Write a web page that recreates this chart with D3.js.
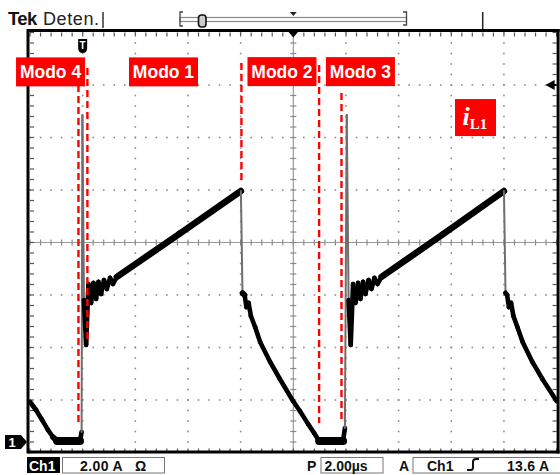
<!DOCTYPE html>
<html>
<head>
<meta charset="utf-8">
<script src="https://cdn.jsdelivr.net/npm/d3@7/dist/d3.min.js"></script>
<style>
  html, body { margin: 0; padding: 0; background: #fff; }
  svg { display: block; }
</style>
</head>
<body>
<script>
// Inductor current i_L1 captured on channel 1 (time in µs, current in A)
const timeUs = [
  0.00, 0.23, 0.46, 0.68, 0.87, 1.03, 1.90, 1.96, 1.99, 2.05, 2.13, 2.22, 2.32, 2.41,
  2.51, 2.60, 2.70, 2.81, 2.92, 3.04, 3.15, 3.30, 5.66, 8.01, 8.07, 8.15, 8.22, 8.30,
  8.39, 8.55, 8.74, 9.12, 9.49, 9.99, 10.25, 10.56, 10.79, 10.98, 11.89, 11.96, 12.03,
  12.10, 12.18, 12.27, 12.36, 12.46, 12.55, 12.65, 12.74, 12.86, 12.97, 13.08, 13.20,
  13.35, 15.69, 18.00, 18.06, 18.12, 18.19, 18.27, 18.36, 18.51, 18.71, 19.08, 19.46, 20.00
];
const currentA = [
  1.52, 1.22, 0.84, 0.46, 0.19, 0.04, 0.04, 0.38, 12.46, 5.41, 3.70, 6.02, 5.30, 6.06,
  5.45, 6.10, 5.64, 6.17, 5.83, 6.25, 6.02, 6.29, 7.92, 9.56, 5.68, 5.60, 5.14, 5.30,
  4.80, 4.38, 3.81, 3.05, 2.40, 1.56, 1.18, 0.69, 0.34, 0.04, 0.04, 0.53, 12.46,
  5.41, 3.70, 6.02, 5.30, 6.06, 5.45, 6.10, 5.64, 6.17, 5.83, 6.25, 6.02,
  6.29, 7.92, 9.56, 5.68, 5.60, 5.14, 5.30, 4.80, 4.38, 3.81, 3.05, 2.40, 1.56
];

// Mode boundaries (dashed markers): time and vertical extent in A
const modeLineT       = [1.84, 2.18, 8.03, 10.98, 11.83];
const modeLineTopA    = [13.60, 14.25, 14.44, 14.36, 13.30];
const modeLineBottomA = [0.72, 3.90, 9.98, 0.72, 0.72];

// Mode labels
const modeLabels = ["Modo 4", "Modo 1", "Modo 2", "Modo 3"];
const modeLabelT = [0.78, 5.07, 9.57, 12.55];
const modeLabelA = [14.1, 14.1, 14.11, 14.11];

// Scope settings
const timeDomain = [0, 20];        // 2.00 µs/div, 10 div
const ampDomain = [-0.4, 15.6];     // 2.00 A/div, 8 div
const triggerT = 2.0;
const triggerLevelA = 13.6;
const headerLabels = ["Tek", "Deten."];
const statusLabels = { ch: "Ch1", vdiv: "2.00 A", ohm: "Ω", p: "P", tdiv: "2.00µs", mode: "A", trigCh: "Ch1", trigLevel: "13.6 A" };

const W = 560, H = 475;
const svg = d3.select("body").append("svg").attr("width", W).attr("height", H);
svg.append("rect").attr("width", W).attr("height", H).attr("fill", "#fff");

const x = d3.scaleLinear().domain(timeDomain).range([30, 556.6]);
const y = d3.scaleLinear().domain(ampDomain).range([452.5, 32.5]);

const x0 = x.range()[0], x1 = x.range()[1];
const y0 = y.range()[1], y1 = y.range()[0];
const majorT = d3.range(timeDomain[0], timeDomain[1] + 0.001, 2);
const minorT = d3.range(timeDomain[0], timeDomain[1] + 0.001, 0.4);
const majorA = d3.range(ampDomain[0], ampDomain[1] + 0.001, 2);
const minorA = d3.range(ampDomain[0], ampDomain[1] + 0.001, 0.4);
const centerT = (timeDomain[0] + timeDomain[1]) / 2;
const centerA = (ampDomain[0] + ampDomain[1]) / 2;

const grid = svg.append("g");
const dotColor = "#8c8c8c";

// dotted graticule lines
majorT.slice(1, -1).forEach(t => {
  if (Math.abs(t - centerT) < 1e-6) return;
  minorA.forEach(a => {
    grid.append("rect").attr("x", x(t) - 0.8).attr("y", y(a) - 0.8)
      .attr("width", 1.6).attr("height", 1.6).attr("fill", dotColor);
  });
});
majorA.slice(1, -1).forEach(a => {
  if (Math.abs(a - centerA) < 1e-6) return;
  minorT.forEach(t => {
    grid.append("rect").attr("x", x(t) - 0.8).attr("y", y(a) - 0.8)
      .attr("width", 1.6).attr("height", 1.6).attr("fill", dotColor);
  });
});

// center cross with minor ticks
grid.append("line").attr("x1", x0).attr("x2", x1).attr("y1", y(centerA)).attr("y2", y(centerA))
  .attr("stroke", "#9a9a9a").attr("stroke-width", 1.2);
grid.append("line").attr("x1", x(centerT)).attr("x2", x(centerT)).attr("y1", y0).attr("y2", y1)
  .attr("stroke", "#9a9a9a").attr("stroke-width", 1.2);
minorT.forEach(t => {
  grid.append("line").attr("x1", x(t)).attr("x2", x(t))
    .attr("y1", y(centerA) - 3).attr("y2", y(centerA) + 3).attr("stroke", "#8a8a8a").attr("stroke-width", 1.2);
});
minorA.forEach(a => {
  grid.append("line").attr("x1", x(centerT) - 3).attr("x2", x(centerT) + 3)
    .attr("y1", y(a)).attr("y2", y(a)).attr("stroke", "#8a8a8a").attr("stroke-width", 1.2);
});

// border ticks
minorT.forEach(t => {
  grid.append("line").attr("x1", x(t)).attr("x2", x(t)).attr("y1", y0).attr("y2", y0 + 4)
    .attr("stroke", "#555").attr("stroke-width", 1.2);
  grid.append("line").attr("x1", x(t)).attr("x2", x(t)).attr("y1", y1 - 4).attr("y2", y1)
    .attr("stroke", "#555").attr("stroke-width", 1.2);
});
minorA.forEach(a => {
  grid.append("line").attr("x1", x0).attr("x2", x0 + 4).attr("y1", y(a)).attr("y2", y(a))
    .attr("stroke", "#555").attr("stroke-width", 1.2);
  grid.append("line").attr("x1", x1 - 4).attr("x2", x1).attr("y1", y(a)).attr("y2", y(a))
    .attr("stroke", "#555").attr("stroke-width", 1.2);
});

// trace: the noise band looks thicker on shallow segments; fast edges are thin and dim
const trace = svg.append("g");
const pts = timeUs.map((t, i) => [x(t), y(currentA[i])]);
for (let i = 0; i < pts.length - 1; i++) {
  const [ax, ay] = pts[i], [bx, by] = pts[i + 1];
  const slope = Math.abs(by - ay) / Math.max(Math.abs(bx - ax), 0.01);
  const steep = slope > 30;
  const w = Math.max(4.6, 8 * Math.cos(Math.atan(slope)));
  trace.append("line").attr("x1", ax).attr("y1", ay).attr("x2", bx).attr("y2", by)
    .attr("stroke", steep ? "#6e6e6e" : "#000")
    .attr("stroke-width", steep ? 2 : w)
    .attr("stroke-linecap", "round");
}

// frame
const frame = svg.append("g").attr("stroke", "#000").attr("stroke-width", 3);
frame.append("line").attr("x1", x0 - 2).attr("x2", x1 + 3).attr("y1", y0 - 2).attr("y2", y0 - 2);
frame.append("line").attr("x1", x0 - 2).attr("x2", x1 + 3).attr("y1", y1 - 0.5).attr("y2", y1 - 0.5);
frame.append("line").attr("x1", x0 - 2).attr("x2", x0 - 2).attr("y1", y0 - 3.5).attr("y2", y1 + 1);
frame.append("line").attr("x1", x1 + 1.5).attr("x2", x1 + 1.5).attr("y1", y0 - 3.5).attr("y2", y1 + 1);

// center time marker on top border
svg.append("path")
  .attr("d", `M${x(centerT) - 6},${y0 - 2} L${x(centerT) + 6},${y0 - 2} L${x(centerT)},${y0 + 5} Z`)
  .attr("fill", "#000");

// trigger position marker
const tx = x(triggerT);
svg.append("path")
  .attr("d", `M${tx - 4.5},${39} L${tx + 4.5},${39} L${tx + 4.5},${48} Q${tx + 4.5},${53} ${tx},${53} Q${tx - 4.5},${53} ${tx - 4.5},${48} Z`)
  .attr("fill", "#000");
svg.append("text").attr("x", tx).attr("y", 49).attr("text-anchor", "middle")
  .attr("font-family", "Liberation Sans, Arial, sans-serif").attr("font-weight", "bold")
  .attr("font-size", 10).attr("fill", "#fff").text("T");

// trigger level arrow on right edge
const ty = y(triggerLevelA);
svg.append("path")
  .attr("d", `M${x1 - 11},${ty} L${x1 - 2},${ty - 5} L${x1 - 2},${ty + 5} Z`).attr("fill", "#000");
svg.append("line").attr("x1", x1 - 6).attr("x2", x1).attr("y1", ty).attr("y2", ty)
  .attr("stroke", "#000").attr("stroke-width", 2);

// channel 1 ground marker
const gy = y(0);
svg.append("path")
  .attr("d", `M5,${gy - 7} L21,${gy - 7} L27,${gy} L21,${gy + 7} L5,${gy + 7} Z`).attr("fill", "#000");
svg.append("text").attr("x", 12).attr("y", gy + 5).attr("text-anchor", "middle")
  .attr("font-family", "Liberation Sans, Arial, sans-serif").attr("font-weight", "bold")
  .attr("font-size", 13).attr("fill", "#fff").text("1");

// header
const sans = "Liberation Sans, Arial, sans-serif";
svg.append("text").attr("x", 8).attr("y", 25).attr("font-family", sans).attr("font-weight", "bold")
  .attr("font-size", 18.5).attr("letter-spacing", -0.6).attr("fill", "#111").text(headerLabels[0]);
svg.append("text").attr("x", 43).attr("y", 25).attr("font-family", sans)
  .attr("font-size", 18).attr("letter-spacing", 0.6).attr("fill", "#222").text(headerLabels[1]);
svg.append("line").attr("x1", 103).attr("x2", 103).attr("y1", 12).attr("y2", 28)
  .attr("stroke", "#333").attr("stroke-width", 1.5);

// record-position bracket
const hdr = svg.append("g");
hdr.append("rect").attr("x", 180).attr("y", 17.5).attr("width", 226.5).attr("height", 4)
  .attr("fill", "#fff").attr("stroke", "#888").attr("stroke-width", 1.2);
hdr.append("path").attr("d", "M183,12 L180,12 L180,26 L183,26").attr("fill", "none")
  .attr("stroke", "#444").attr("stroke-width", 1.3);
hdr.append("path").attr("d", "M403,12 L406.5,12 L406.5,25 L403,25").attr("fill", "none")
  .attr("stroke", "#444").attr("stroke-width", 1.3);
hdr.append("rect").attr("x", 198.5).attr("y", 15).attr("width", 7.5).attr("height", 12).attr("rx", 3)
  .attr("fill", "#ccc").attr("stroke", "#111").attr("stroke-width", 1.6);
hdr.append("path").attr("d", `M${x(centerT) - 3.5},12 L${x(centerT) + 3.5},12 L${x(centerT)},16 Z`).attr("fill", "#222");
hdr.append("line").attr("x1", 482.7).attr("x2", 482.7).attr("y1", 12).attr("y2", 29)
  .attr("stroke", "#222").attr("stroke-width", 1.5);

// dashed mode boundaries
modeLineT.forEach((t, i) => {
  svg.append("line").attr("x1", x(t)).attr("x2", x(t))
    .attr("y1", y(modeLineTopA[i])).attr("y2", y(modeLineBottomA[i]))
    .attr("stroke", "#f00").attr("stroke-width", 2.4).attr("stroke-dasharray", "7,4");
});

// mode labels
modeLabels.forEach((lab, i) => {
  const cx = x(modeLabelT[i]), cy = y(modeLabelA[i]);
  svg.append("rect").attr("x", cx - 34.5).attr("y", cy - 14.5).attr("width", 69).attr("height", 29)
    .attr("fill", "#f00");
  svg.append("text").attr("x", cx).attr("y", cy + 6.3).attr("text-anchor", "middle")
    .attr("font-family", sans).attr("font-weight", "bold").attr("font-size", 17.5)
    .attr("fill", "#fff").text(lab);
});

// i_L1 label
const lx = x(16.92), ly = y(12.36);
svg.append("rect").attr("x", lx - 20.5).attr("y", ly - 18.5).attr("width", 41).attr("height", 37).attr("fill", "#f00");
const il = svg.append("text").attr("x", lx - 13).attr("y", ly + 7.5)
  .attr("font-family", "Liberation Serif, Times New Roman, serif").attr("font-weight", "bold").attr("fill", "#fff");
il.append("tspan").attr("font-style", "italic").attr("font-size", 26).text("i");
il.append("tspan").attr("font-size", 15).attr("dy", 3.5).text("L1");

// status bar
const st = svg.append("g").attr("font-family", sans).attr("font-weight", "bold").attr("font-size", 14);
st.append("rect").attr("x", 27).attr("y", 457).attr("width", 33).attr("height", 16).attr("fill", "#000");
st.append("text").attr("x", 29).attr("y", 470.5).attr("fill", "#fff").text(statusLabels.ch);
st.append("rect").attr("x", 62.5).attr("y", 457.5).attr("width", 102).attr("height", 15.5)
  .attr("fill", "#fff").attr("stroke", "#777").attr("stroke-width", 1);
st.append("text").attr("x", 80).attr("y", 470.5).attr("fill", "#111").attr("letter-spacing", 0.4).text(statusLabels.vdiv);
st.append("text").attr("x", 135).attr("y", 470.5).attr("fill", "#111").text(statusLabels.ohm);
st.append("text").attr("x", 307).attr("y", 470.5).attr("fill", "#111").text(statusLabels.p);
st.append("rect").attr("x", 321).attr("y", 457.5).attr("width", 62).attr("height", 15.5)
  .attr("fill", "#fff").attr("stroke", "#777").attr("stroke-width", 1);
st.append("text").attr("x", 324.5).attr("y", 470.5).attr("fill", "#111").text(statusLabels.tdiv);
st.append("text").attr("x", 399).attr("y", 470.5).attr("fill", "#111").text(statusLabels.mode);
st.append("rect").attr("x", 413).attr("y", 457.5).attr("width", 160).attr("height", 15.5)
  .attr("fill", "#fff").attr("stroke", "#777").attr("stroke-width", 1);
st.append("text").attr("x", 427).attr("y", 470.5).attr("fill", "#111").text(statusLabels.trigCh);
st.append("path").attr("d", "M467,470 L471,470 Q473,470 473,467 L473,462 Q473,459 476,459 L479,459")
  .attr("fill", "none").attr("stroke", "#111").attr("stroke-width", 2);
st.append("text").attr("x", 507).attr("y", 470.5).attr("fill", "#111").attr("letter-spacing", 0.3).text(statusLabels.trigLevel);
</script>
</body>
</html>
